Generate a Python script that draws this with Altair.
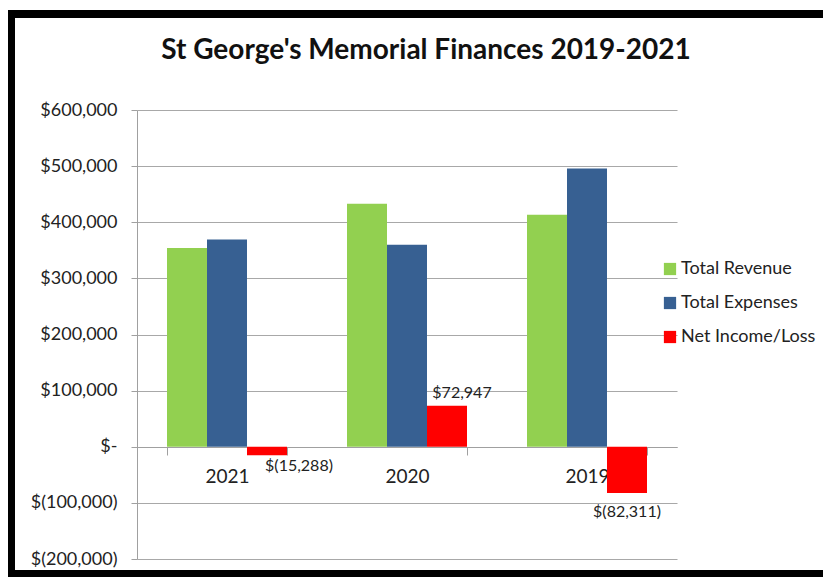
import altair as alt
import pandas as pd

years = ["2021", "2020", "2019"]
series = ["Total Revenue", "Total Expenses", "Net Income/Loss"]
colors = ["#92d050", "#376092", "#ff0000"]
revenue = [354000, 433000, 413500]
expenses = [369288, 360053, 495811]
net = [-15288, 72947, -82311]

rows = []
for i, y in enumerate(years):
    rows.append({"year": y, "series": series[0], "value": revenue[i]})
    rows.append({"year": y, "series": series[1], "value": expenses[i]})
    rows.append({"year": y, "series": series[2], "value": net[i]})
df = pd.DataFrame(rows)

FONT = "Lato"
W, H = 540, 449

ylabel = ("datum.value == 0 ? '$-' : datum.value < 0 ? '$(' + format(-datum.value, ',') + ')' "
          ": '$' + format(datum.value, ',')")

xenc = alt.X("year:N", sort=years,
             scale=alt.Scale(paddingInner=1/3, paddingOuter=1/6),
             axis=alt.Axis(title=None, orient="bottom", offset=-112, tickBand="extent",
                           domainColor="#a0a0a0", tickColor="#a0a0a0", tickSize=8,
                           labelFontSize=19, labelFont=FONT, labelColor="#222",
                           labelPadding=12, labelAngle=0, domainWidth=1.2))
xoff = alt.XOffset("series:N", sort=series, scale=alt.Scale(domain=series))
yenc = alt.Y("value:Q", scale=alt.Scale(domain=[-200000, 600000], nice=False),
             axis=alt.Axis(title=None, values=list(range(-200000, 600001, 100000)),
                           labelExpr=ylabel, labelFont=FONT, labelFontSize=18,
                           labelColor="#222", labelPadding=14, tickSize=6,
                           tickColor="#a0a0a0", domainColor="#a0a0a0",
                           gridColor="#a8a8a8", gridWidth=1.2))

base = alt.Chart(df)

bars = base.mark_bar().encode(
    x=xenc, xOffset=xoff, y=yenc,
    color=alt.Color("series:N", scale=alt.Scale(domain=series, range=colors),
                    legend=alt.Legend(title=None, orient="none", legendX=524, legendY=150,
                                      symbolType="square", symbolSize=150,
                                      symbolStrokeWidth=0, labelFont=FONT,
                                      labelFontSize=18, labelColor="#222",
                                      labelOffset=2, rowPadding=16)),
)

lab_expr = ("datum.value < 0 ? '$(' + format(-datum.value, ',') + ')' "
            ": '$' + format(datum.value, ',')")

def net_label(year, dx, dy, baseline):
    return base.transform_filter(
        (alt.datum.series == series[2]) & (alt.datum.year == year)
    ).transform_calculate(lab=lab_expr).mark_text(
        font=FONT, fontSize=16, color="#222", dx=dx, dy=dy, baseline=baseline
    ).encode(x=alt.X("year:N", sort=years), xOffset=xoff, y="value:Q", text="lab:N")

t1 = net_label("2021", 32, 3, "top")
t2 = net_label("2020", 15, -5, "bottom")
t3 = net_label("2019", 0, 11, "top")

frame = alt.Chart(pd.DataFrame({"a": [0]})).mark_rect(
    fill=None, stroke="black", strokeWidth=8
).encode(x=alt.value(-126), x2=alt.value(720), y=alt.value(-96), y2=alt.value(464))

chart = alt.layer(frame, bars, t1, t2, t3).properties(
    width=W, height=H,
    autosize=alt.AutoSizeParams(type="none"),
    padding={"left": 129, "top": 102, "right": 146, "bottom": 18},
    background="white",
    title=alt.Title("St George's Memorial Finances 2019-2021", font=FONT, fontSize=28,
                    fontWeight="bold", color="#111", anchor="middle", dx=19, offset=-55),
).configure_view(stroke=None)

chart.save("out.html", embed_options={"renderer": "svg", "actions": False})
